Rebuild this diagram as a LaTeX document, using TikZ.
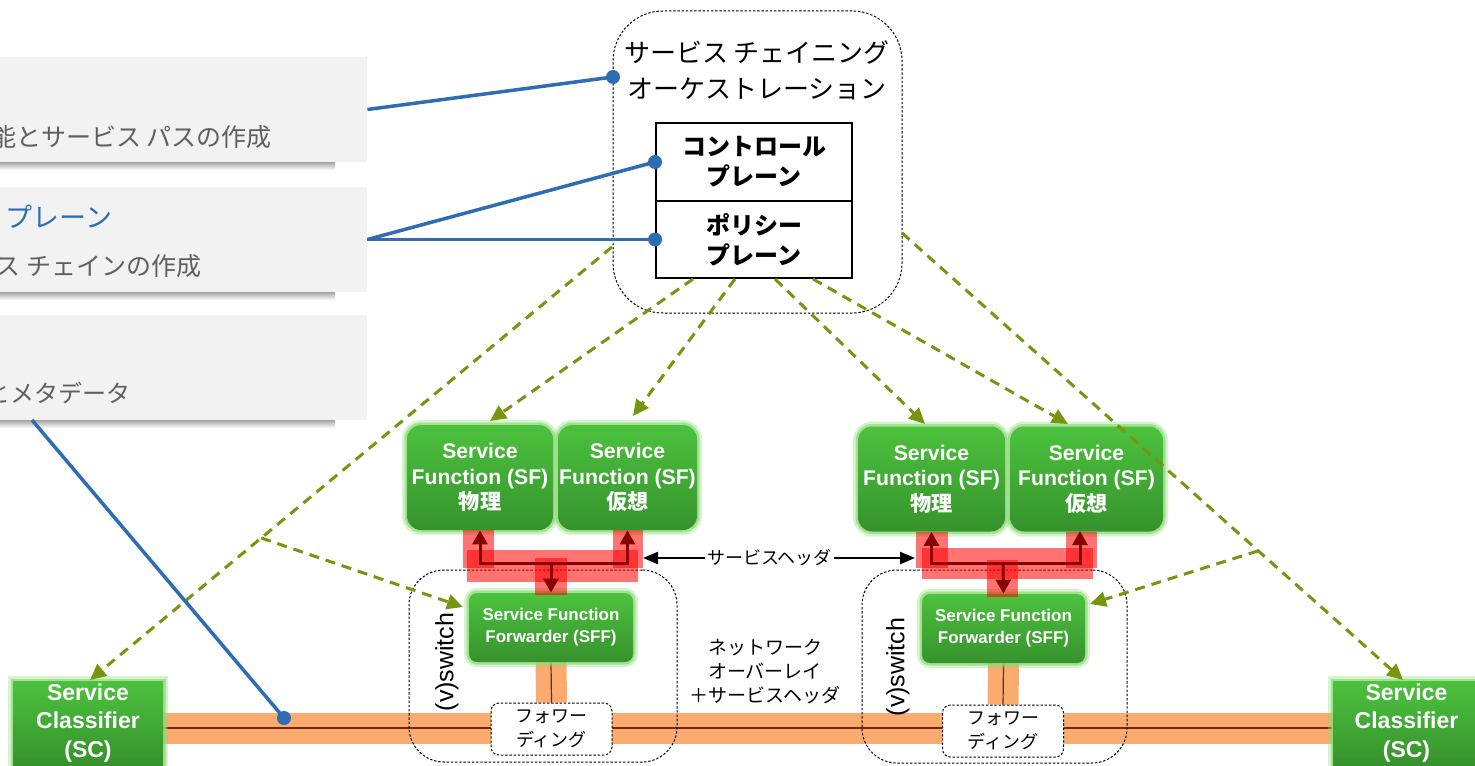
\documentclass[tikz,border=0pt]{standalone}
\usepackage{fontspec}
\setmainfont{Liberation Sans}
\newfontfamily\jp{Noto Sans CJK JP}
\usetikzlibrary{arrows.meta,calc}
\pgfdeclarelayer{bg}
\pgfdeclarelayer{bars}
\pgfsetlayers{bg,bars,main}
\definecolor{panelbg}{RGB}{242,242,242}
\definecolor{paneltxt}{RGB}{95,95,95}
\definecolor{bluec}{RGB}{46,108,180}
\definecolor{olive}{RGB}{118,150,18}
\definecolor{gtop}{RGB}{76,194,62}
\definecolor{gbot}{RGB}{54,146,44}
\definecolor{glowc}{RGB}{140,220,120}
\definecolor{orangebar}{RGB}{251,170,112}
\definecolor{brownln}{RGB}{110,45,10}
\definecolor{darkred}{RGB}{135,0,0}
\tikzset{
  panel/.style={fill=panelbg, draw=none, inner sep=0pt, minimum width=193.5pt, minimum height=52.5pt},
  ptext/.style={text=paneltxt, font=\jp\fontsize{12.5}{15}\selectfont, inner sep=0pt, anchor=east},
  gbox/.style={top color=gtop, bottom color=gbot, draw=none, text=white, align=center, inner sep=0pt,
     preaction={draw=glowc, line width=5pt, opacity=0.35},
     preaction={draw=glowc, line width=2.5pt, opacity=0.7}},
  dotbox/.style={draw=black, line width=0.5pt, dash pattern=on 1.2pt off 0.9pt, inner sep=0pt},
  planebox/.style={draw=black, line width=1pt, minimum width=98pt, align=center, inner sep=0pt,
     font=\jp\bfseries\fontsize{12}{15}\selectfont},
  bline/.style={draw=bluec, line width=1.75pt},
  bdot/.style={fill=bluec},
  gdash/.style={draw=olive, line width=1.5pt, dash pattern=on 5pt off 3.5pt,
     -{Triangle[length=8pt,width=7.5pt,fill=olive]}},
  redbar/.style={fill=red, opacity=0.55},
  dred/.style={draw=darkred, line width=1.5pt, -{Triangle[length=7pt,width=7.5pt]}},
  harrow/.style={draw=black, line width=1.2pt, {Triangle[length=7.5pt,width=6pt]}-{Triangle[length=7.5pt,width=6pt]}},
  fwdbox/.style={dotbox, fill=white, rounded corners=4pt, minimum width=60.5pt, minimum height=26pt,
     align=center, font=\jp\fontsize{9}{12}\selectfont},
  sffbox/.style={gbox, rounded corners=4pt, minimum height=34.5pt, font=\bfseries\fontsize{8.5}{11}\selectfont},
  scbox/.style={gbox, minimum height=42pt, font=\bfseries\fontsize{11.5}{14.25}\selectfont},
  sfbox/.style={gbox, rounded corners=7pt, minimum height=52.5pt, font=\bfseries\fontsize{10.6}{12.75}\selectfont},
}
\begin{document}
\begin{tikzpicture}[x=0.5pt,y=-0.5pt]
\useasboundingbox (0,0) rectangle (1475,765);
\clip (0,0) rectangle (1475,765);
\begin{pgfonlayer}{bg}
\fill[white] (0,0) rectangle (1475,765);
\end{pgfonlayer}

% ---------- left panels ----------
\shade[top color=black!45, bottom color=white] (-10,160) rectangle (335,170);
\shade[top color=black!45, bottom color=white] (-10,290) rectangle (335,300);
\shade[top color=black!45, bottom color=white] (-10,418) rectangle (335,428);
\node[panel] (p1) at (173.5,109.5) {};
\node[panel] (p2) at (173.5,239.5) {};
\node[panel] (p3) at (173.5,367.5) {};
\node[ptext] (t1) at (272,137) {能とサービス パスの作成};
\node[ptext, text=bluec, font=\jp\fontsize{13.5}{16}\selectfont] (t2a) at (113,217) {プレーン};
\node[ptext] (t2b) at (202,266) {ス チェインの作成};
\node[ptext, font=\jp\fontsize{12}{15}\selectfont] (t3) at (131,393) {とメタデータ};

% ---------- orchestration ----------
\node[dotbox, rounded corners=25pt, minimum width=144.5pt, minimum height=151pt] (orch) at (757.5,162) {};
\node[font=\jp\fontsize{13}{18}\selectfont, align=center] (orcht) at (757,70) {サービス チェイニング\\オーケストレーション};
\node[planebox, minimum height=39pt] (ctrl) at (754,162) {コントロール\\プレーン};
\node[planebox, minimum height=38.5pt] (pol) at (754,239.5) {ポリシー\\プレーン};

% ---------- bottom: classifiers, forwarders, switches ----------
\node[scbox, minimum width=75pt] (scL) at (88,723) {Service\\Classifier\\(SC)};
\node[scbox, minimum width=73.5pt] (scR) at (1406.5,723) {Service\\Classifier\\(SC)};
\node[sffbox, minimum width=82pt] (sffL) at (551,627.5) {Service Function\\Forwarder (SFF)};
\node[sffbox, minimum width=81.5pt] (sffR) at (1003.5,628.5) {Service Function\\Forwarder (SFF)};
\node[fwdbox] (fwdL) at (551.5,729) {フォワー\\ディング};
\node[fwdbox] (fwdR) at (1003,731) {フォワー\\ディング};

\begin{pgfonlayer}{bars}
\path (scL.east) ++(0,5) coordinate (barL);
\path (scR.west) ++(0,5) coordinate (barR);
\draw[orangebar, line width=15.5pt] (barL) -- (barR);
\draw[brownln, line width=0.6pt] (barL) -- (barR);
\draw[orangebar, line width=15.5pt] (sffL.south) -- (fwdL.north);
\draw[brownln, line width=0.6pt] (sffL.south) -- (fwdL.north);
\draw[orangebar, line width=15.5pt] (sffR.south) -- (fwdR.north);
\draw[brownln, line width=0.6pt] (sffR.south) -- (fwdR.north);
\end{pgfonlayer}

\node[dotbox, rounded corners=17.5pt, minimum width=134pt, minimum height=96pt] (swL) at (543,666) {};
\node[dotbox, rounded corners=17.5pt, minimum width=132.5pt, minimum height=96.5pt] (swR) at (994.5,666.5) {};
\node[rotate=90, font=\fontsize{12.5}{15}\selectfont, inner sep=0pt] (swLt) at (447,662) {(v)switch};
\node[rotate=90, font=\fontsize{12.5}{15}\selectfont, inner sep=0pt] (swRt) at (898,667) {(v)switch};

\node[font=\jp\fontsize{9.5}{12}\selectfont, align=center] (ovl) at (765,672) {ネットワーク\\オーバーレイ\\＋サービスヘッダ};

% ---------- service functions ----------
\node[sfbox, minimum width=73pt] (sf1) at (480,477.5) {Service\\Function (SF)\\{\jp\bfseries 物理}};
\node[sfbox, minimum width=69.5pt] (sf2) at (627.5,477.5) {Service\\Function (SF)\\{\jp\bfseries 仮想}};
\node[sfbox, minimum width=73.5pt] (sf3) at (931.5,479) {Service\\Function (SF)\\{\jp\bfseries 物理}};
\node[sfbox, minimum width=76.5pt] (sf4) at (1086.5,479) {Service\\Function (SF)\\{\jp\bfseries 仮想}};

% ---------- red paths ----------
\fill[redbar] (463,530) rectangle (494,568);
\fill[redbar] (613,530) rectangle (643,568);
\fill[redbar] (467,550) rectangle (638,582);
\fill[redbar] (535,558) rectangle (567,595);
\fill[redbar] (916,532) rectangle (948,568);
\fill[redbar] (1066,532) rectangle (1097,568);
\fill[redbar] (922,548) rectangle (1093,579);
\fill[redbar] (987,560) rectangle (1018,597);
\coordinate (jL) at (551,563);
\coordinate (jR) at (1003,563);
\coordinate (sf4b) at (1080,531);
\draw[dred] (jL) -| (sf1.south);
\draw[dred] (jL) -| (sf2.south);
\draw[dred] (jL) -- (sffL.north);
\draw[dred] (jR) -| (sf3.south);
\draw[dred] (jR) -| (sf4b);
\draw[dred] (jR) -- (sffR.north);

% ---------- service header arrow ----------
\coordinate (haL) at (643,558);
\coordinate (haR) at (915,558);
\draw[harrow] (haL) -- node[pos=0.465, fill=white, inner sep=1pt, font=\jp\fontsize{9}{11}\selectfont] (hlab) {サービスヘッダ} (haR);

% ---------- green dashed ----------
\coordinate (gA) at (693,279);
\coordinate (gB) at (735,279);
\coordinate (gC) at (775,279);
\coordinate (gD) at (813,279);
\coordinate (tA) at (490,421);
\coordinate (tB) at (633,416);
\coordinate (tC) at (925,424);
\coordinate (tD) at (1068,424);
\draw[gdash] (gA) -- (tA);
\draw[gdash] (gB) -- (tB);
\draw[gdash] (gC) -- (tC);
\draw[gdash] (gD) -- (tD);
\coordinate (oL) at (612,247);
\coordinate (scLt) at (90,680);
\coordinate (cL) at ($(oL)!0.672!(scLt)$);
\coordinate (sffLt) at (463,607);
\draw[gdash] (oL) -- (scLt);
\draw[gdash] (cL) -- (sffLt);
\coordinate (oR) at (902,233);
\coordinate (scRt) at (1403,680);
\coordinate (cR) at ($(oR)!0.711!(scRt)$);
\coordinate (sffRt) at (1090,604);
\draw[gdash] (oR) -- (scRt);
\draw[gdash] (cR) -- (sffRt);

% ---------- blue connectors ----------
\coordinate (odot) at (613,77);
\coordinate (p3b) at (32,420);
\coordinate (bardot) at (284,718);
\draw[bline] (p1.east) -- (odot);
\draw[bline] (p2.east) -- (ctrl.west);
\draw[bline] (p2.east) -- (pol.west);
\draw[bline] (p3b) -- (bardot);
\fill[bdot] (odot) circle (3.5pt);
\fill[bdot] (ctrl.west) circle (3.5pt);
\fill[bdot] (pol.west) circle (3.5pt);
\fill[bdot] (bardot) circle (3.5pt);
\end{tikzpicture}
\end{document}
